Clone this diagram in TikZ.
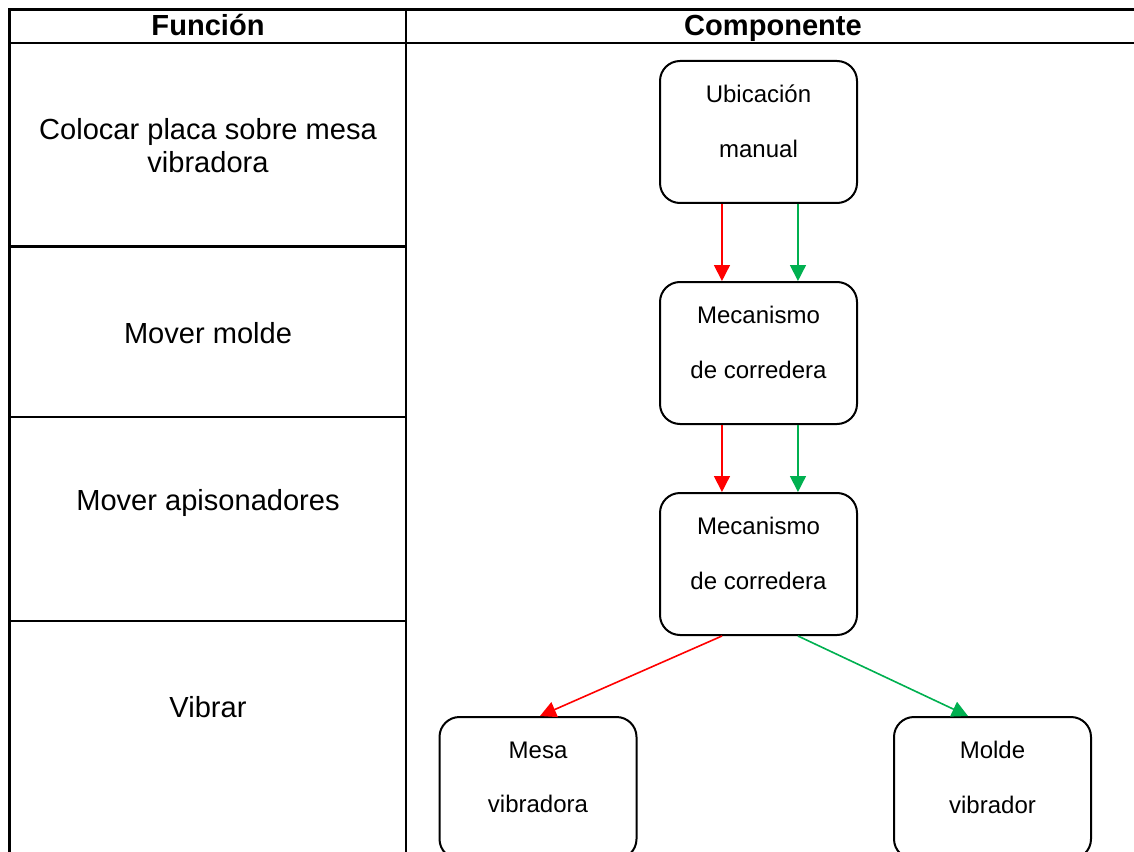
\documentclass[tikz,border=0pt]{standalone}
\usepackage{fontspec}
\setmainfont{Liberation Sans}
\usetikzlibrary{arrows.meta}
\definecolor{verde}{RGB}{0,176,80}

\begin{document}
\begin{tikzpicture}[x=0.75pt,y=-0.75pt,
  tabla/.style={line width=2pt},
  caja/.style={draw,line width=1.5pt,rounded corners=15pt,minimum width=147.75pt,minimum height=106.5pt,inner sep=0pt},
  texto/.style={align=center,font=\fontsize{18}{41}\selectfont},
  funcion/.style={align=center,font=\fontsize{21.8}{24.75}\selectfont},
  cabecera/.style={anchor=base,inner sep=0pt,font=\fontsize{21.8}{24.75}\selectfont\bfseries},
  flecha/.style={line width=1.2pt,-{Triangle[width=12pt,length=12pt]}}]
  \useasboundingbox (0,0) rectangle (1134,852);
  \clip (0,0) rectangle (1134,852);
  % tabla
  \draw[tabla] (1140,9.5) -- (9.5,9.5) -- (9.5,860);
  \draw[tabla] (9.5,43) -- (1140,43);
  \draw[tabla] (406,9.5) -- (406,860);
  \foreach \y in {246.5,417,621}
    \draw[tabla] (9.5,\y) -- (406,\y);
  \node[cabecera] (hfun) at (208,36) {Función};
  \node[cabecera] (hcom) at (773,36) {Componente};
  \node[funcion] (f1) at (208,146) {Colocar placa sobre mesa\\vibradora};
  \node[funcion] (f2) at (208,333) {Mover molde};
  \node[funcion] (f3) at (208,503) {Mover apisonadores};
  \node[funcion] (f4) at (208,707) {Vibrar};
  % componentes
  \node[caja] (b1) at (758.5,132) {};
  \node[caja] (b2) at (758.5,353) {};
  \node[caja] (b3) at (758.5,564) {};
  \node[caja] (mesa) at (538,788) {};
  \node[caja] (molde) at (992.5,788) {};
  \node[texto] (t1) at ([yshift=8pt]b1.center) {Ubicación\\manual};
  \node[texto] (t2) at ([yshift=8pt]b2.center) {Mecanismo\\de corredera};
  \node[texto] (t3) at ([yshift=8pt]b3.center) {Mecanismo\\de corredera};
  \node[texto] (t4) at ([yshift=8pt]mesa.center) {Mesa\\vibradora};
  \node[texto] (t5) at ([yshift=8pt]molde.center) {Molde\\vibrador};
  % flechas
  \draw[flecha,red] ([xshift=-27.4pt]b1.south) -- ([xshift=-27.4pt]b2.north);
  \draw[flecha,verde] ([xshift=29.6pt]b1.south) -- ([xshift=29.6pt]b2.north);
  \draw[flecha,red] ([xshift=-27.4pt]b2.south) -- ([xshift=-27.4pt]b3.north);
  \draw[flecha,verde] ([xshift=29.6pt]b2.south) -- ([xshift=29.6pt]b3.north);
  \draw[flecha,red] ([xshift=-27.4pt]b3.south) -- ([xshift=1.5pt]mesa.north);
  \draw[flecha,verde] ([xshift=29.6pt]b3.south) -- ([xshift=-18.4pt]molde.north);
\end{tikzpicture}
\end{document}
